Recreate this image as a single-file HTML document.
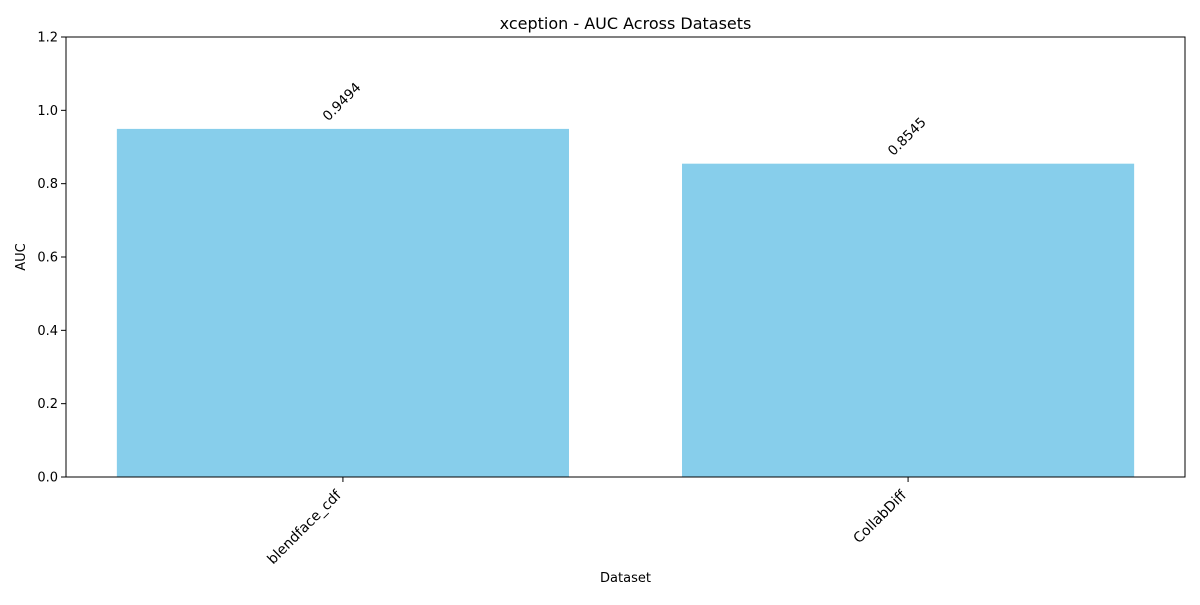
<!DOCTYPE html>
<html><head><meta charset="utf-8"><style>
body{margin:0;background:#fff;font-family:"Liberation Sans","DejaVu Sans",sans-serif;}
</style></head><body>
<svg id="chart" width="1200" height="600" xmlns="http://www.w3.org/2000/svg" font-family="DejaVu Sans, Liberation Sans, sans-serif">
<rect width="1200" height="600" fill="#fff"/>
<g id="plot"></g>
<text x="625.5" y="29" text-anchor="middle" font-size="16">xception - AUC Across Datasets</text>
<text x="625.5" y="582" text-anchor="middle" font-size="13">Dataset</text>
<text transform="translate(25,257) rotate(-90)" text-anchor="middle" font-size="13">AUC</text>
</svg>
<script>
const categories=["blendface_cdf","CollabDiff"];
const values=[0.9494,0.8545];
const yTicks=[0,0.2,0.4,0.6,0.8,1.0,1.2];
const yTickLabels=["0.0","0.2","0.4","0.6","0.8","1.0","1.2"];
const L=66,R=1185,T=37,B=477;
const xMin=-0.49,xMax=1.49,yMax=1.2;
const xs=v=>L+(v-xMin)/(xMax-xMin)*(R-L);
const ys=v=>B-v/yMax*(B-T);
const NS="http://www.w3.org/2000/svg";
const g=document.getElementById('plot');
function mk(t,a){const e=document.createElementNS(NS,t);for(const k in a)e.setAttribute(k,a[k]);g.appendChild(e);return e;}
categories.forEach((c,i)=>{
  const x0=xs(i-0.4),x1=xs(i+0.4),y=ys(values[i]);
  const r=mk('rect',{x:x0,y:y,width:x1-x0,height:B-y,fill:'#87ceeb'});
  
  
  const cx=xs(i);
  const vl=mk('text',{transform:`translate(${cx+2},${y-24}) rotate(-45)`,'text-anchor':'middle','font-size':13.5});
  vl.textContent=values[i].toFixed(4);
  
  
  const tk=mk('line',{x1:cx,x2:cx,y1:B,y2:B+5,stroke:'#000','stroke-width':1});
  
  
  const tl=mk('text',{transform:`translate(${cx-1},${B+19}) rotate(-45)`,'text-anchor':'end','font-size':14});
  tl.textContent=c;
  
  
});
yTicks.forEach((v,i)=>{
  const y=ys(v);
  const tk=mk('line',{x1:L-5,x2:L,y1:y,y2:y,stroke:'#000','stroke-width':1});
  
  
  const tl=mk('text',{x:L-8,y:y+4.5,'text-anchor':'end','font-size':13});
  tl.textContent=yTickLabels[i];
  
  
});
const fr=mk('rect',{x:L,y:T,width:R-L,height:B-T,fill:'none',stroke:'#000','stroke-width':1});


</script>
</body></html>
